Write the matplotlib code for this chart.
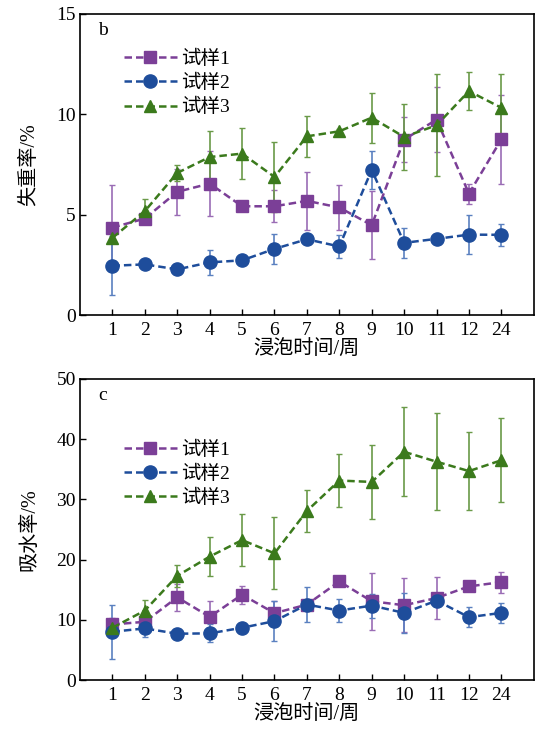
import numpy as np
import matplotlib.pyplot as plt

plt.rcParams['font.family'] = ['Liberation Serif', 'Noto Sans CJK SC']

weeks = ["1", "2", "3", "4", "5", "6", "7", "8", "9", "10", "11", "12", "24"]
names = ["试样1", "试样2", "试样3"]

# panel b: mass loss (%)
loss1 = [4.35, 4.8, 6.13, 6.54, 5.41, 5.41, 5.68, 5.35, 4.47, 8.73, 9.72, 6.04, 8.74]
loss1_err = [2.1, 0.2, 1.15, 1.6, 0.1, 0.8, 1.43, 1.13, 1.7, 1.1, 1.6, 0.5, 2.2]
loss2 = [2.45, 2.52, 2.27, 2.62, 2.72, 3.29, 3.77, 3.41, 7.22, 3.59, 3.79, 4.0, 3.99]
loss2_err = [1.47, 0.1, 0.1, 0.63, 0.1, 0.73, 0.1, 0.57, 0.96, 0.74, 0.1, 0.97, 0.56]
loss3 = [3.84, 5.17, 7.07, 7.86, 8.03, 6.87, 8.89, 9.14, 9.82, 8.86, 9.44, 11.14, 10.31]
loss3_err = [0.2, 0.6, 0.4, 1.3, 1.25, 1.75, 1.03, 0.1, 1.25, 1.65, 2.53, 0.93, 1.68]

# panel c: water absorption (%)
abs1 = [9.23, 9.67, 13.74, 10.49, 14.18, 11.1, 12.53, 16.37, 13.08, 12.42, 13.63, 15.55, 16.26]
abs1_err = [1.0, 0.8, 2.2, 2.7, 1.5, 2.1, 0.4, 0.3, 4.7, 4.45, 3.5, 0.8, 1.75]
abs2 = [8.02, 8.57, 7.69, 7.75, 8.68, 9.78, 12.53, 11.54, 12.36, 11.15, 13.19, 10.44, 11.15]
abs2_err = [4.5, 1.5, 0.3, 1.5, 0.3, 3.3, 2.9, 1.9, 2.0, 3.3, 0.5, 1.7, 1.6]
abs3 = [8.68, 11.54, 17.3, 20.5, 23.24, 21.04, 28.08, 33.13, 32.9, 37.9, 36.26, 34.7, 36.5]
abs3_err = [1.0, 1.7, 1.85, 3.3, 4.3, 6.0, 3.55, 4.4, 6.2, 7.4, 8.1, 6.45, 7.0]

colors = ["#7b3f97", "#1e4d9b", "#3b7a1c"]
err_colors = ["#9a6cb5", "#5a80c0", "#6a9a48"]
markers = ["s", "o", "^"]
msizes = [9, 9.5, 9]

fig = plt.figure(figsize=(5.37, 7.35), dpi=100)
ax_b = fig.add_axes([0.149, 0.5714, 0.845, 0.4102])
ax_c = fig.add_axes([0.149, 0.0748, 0.845, 0.4096])

x = np.arange(1, len(weeks) + 1)


def draw_panel(ax, series, errs, ylim, yticks, ylabel, tag, leg_y):
    for i in range(3):
        ax.errorbar(x, series[i], yerr=errs[i], fmt="none", ecolor=err_colors[i],
                    elinewidth=1.2, capsize=2, capthick=1.0, zorder=2)
    for i in range(3):
        ax.plot(x, series[i], linestyle=(0, (3, 1.6)), lw=1.8, color=colors[i],
                marker=markers[i], ms=msizes[i], mfc=colors[i], mec=colors[i],
                label=names[i], zorder=3)
    ax.set_xlim(0, 14)
    ax.set_ylim(*ylim)
    ax.set_xticks(x)
    ax.set_xticklabels(weeks)
    ax.set_yticks(yticks)
    ax.tick_params(direction="in", length=4, labelsize=14, width=1,
                   right=False, top=False)
    ax.tick_params(axis="x", pad=5)
    ax.tick_params(axis="y", pad=3)
    for s in ax.spines.values():
        s.set_linewidth(1.2)
    ax.set_xlabel("浸泡时间/周", fontsize=14.5, labelpad=1)
    ax.set_ylabel(ylabel, fontsize=14.5, labelpad=12)
    ax.text(0.04, 0.945, tag, transform=ax.transAxes, fontsize=14,
            va="center", ha="left")
    ax.legend(loc="upper left", bbox_to_anchor=(0.08, leg_y), frameon=False,
              fontsize=14, handlelength=2.7, handletextpad=0.25,
              labelspacing=0.3, borderaxespad=0)


draw_panel(ax_b, [loss1, loss2, loss3], [loss1_err, loss2_err, loss3_err],
           (0, 15), [0, 5, 10, 15], "失重率/%", "b", 0.905)
draw_panel(ax_c, [abs1, abs2, abs3], [abs1_err, abs2_err, abs3_err],
           (0, 50), [0, 10, 20, 30, 40, 50], "吸水率/%", "c", 0.82)

fig.savefig("out.png", dpi=100)
